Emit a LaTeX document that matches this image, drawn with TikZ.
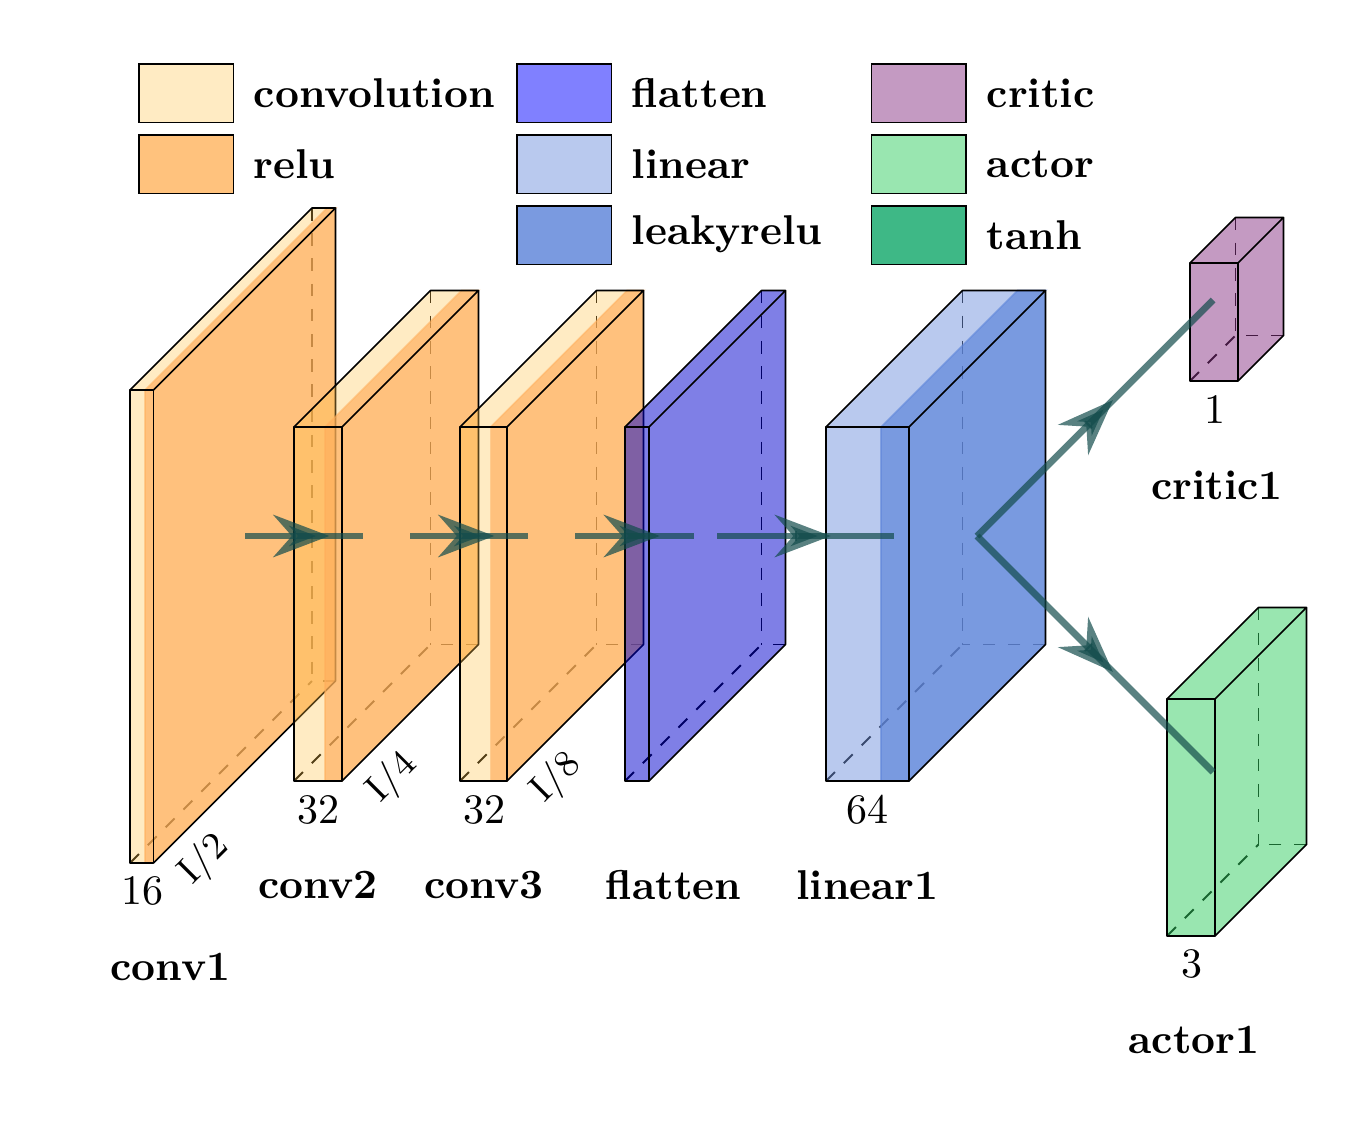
\documentclass[tikz,border=0pt]{standalone}
\usetikzlibrary{arrows.meta}
\definecolor{convcol}{RGB}{255,194,73}
\definecolor{relucol}{RGB}{255,174,91}
\definecolor{flatcol}{RGB}{0,0,205}
\definecolor{lincol}{RGB}{115,147,221}
\definecolor{leakcol}{RGB}{95,134,218}
\definecolor{criticcol}{RGB}{137,53,133}
\definecolor{actorcol}{RGB}{51,205,97}
\definecolor{edgecol}{RGB}{18,75,75}
\definecolor{lgconv}{RGB}{255,235,195}
\definecolor{lgrelu}{RGB}{255,194,125}
\definecolor{lgflat}{RGB}{128,128,255}
\definecolor{lglin}{RGB}{185,201,238}
\definecolor{lgleak}{RGB}{122,154,224}
\definecolor{lgcritic}{RGB}{196,154,194}
\definecolor{lgactor}{RGB}{153,230,176}
\definecolor{lgtanh}{RGB}{62,184,134}
\newcommand{\tikzunitpx}{*0.2381pt}
\tikzset{
  hid/.style={draw=black,dashed,line width=.47pt},
  solidedge/.style={draw=black},
  basecoat/.style={fill=convcol,fill opacity=.33},
  relucoat/.style={fill=relucol,fill opacity=.67,draw=relucol,draw opacity=.5},
  lincoat/.style={fill=lincol,fill opacity=.5},
  leakcoat/.style={fill=leakcol,fill opacity=.7,draw=leakcol,draw opacity=.6},
  flatcoat/.style={fill=flatcol,fill opacity=.5},
  criticcoat/.style={fill=criticcol,fill opacity=.5},
  actorcoat/.style={fill=actorcol,fill opacity=.5},
  legendbox/.style={draw=black,line width=.45pt,minimum width=94.5\tikzunitpx,minimum height=58.5\tikzunitpx,inner sep=0pt},
  legendtext/.style={anchor=west,inner sep=0pt,font=\fontsize{9.92}{12}\selectfont\bfseries},
  layername/.style={font=\fontsize{9.92}{12}\selectfont\bfseries,inner sep=0pt},
  dimlabel/.style={inner sep=0pt},
  scalelabel/.style={inner sep=0pt,rotate=45,font=\fontsize{9}{11}\selectfont},
  connection/.style={line width=1.6pt,draw=edgecol,opacity=0.7,every node/.style={sloped,allow upside down}},
}
\newcommand{\midarrow}{\tikz \draw[-Stealth,line width=0.8mm,draw=edgecol] (-0.3cm,0) -- ++(0.3cm,0);}
% #1 left x, #2 right x, #3 top y, #4 bottom y, #5 depth
\newcommand{\hiddenedges}[5]{%
  \draw[hid] (#1+#5,#3-#5) -- (#1+#5,#4-#5);
  \draw[hid] (#2+#5,#4-#5) -- (#1+#5,#4-#5);
  \draw[hid] (#1,#4) -- (#1+#5,#4-#5);}
\newcommand{\coat}[6]{%
  \path[#1] (#2,#4) -- (#3,#4) -- (#3,#5) -- (#2,#5) -- cycle;
  \path[#1] (#2,#4) -- (#3,#4) -- (#3+#6,#4-#6) -- (#2+#6,#4-#6) -- cycle;
  \path[#1,draw=none] (#3,#4) -- (#3+#6,#4-#6) -- (#3+#6,#5-#6) -- (#3,#5) -- cycle;}
\newcommand{\boxedges}[5]{%
  \draw[solidedge,line join=round] (#1,#3) rectangle (#2,#4);
  \draw[solidedge,line join=round] (#1,#3) -- (#1+#5,#3-#5) -- (#2+#5,#3-#5) -- (#2,#3);
  \draw[solidedge,line join=round] (#2+#5,#3-#5) -- (#2+#5,#4-#5) -- (#2,#4);}
% two-layer block: #1 first coat, #2 second coat, #3 left, #4 split, #5 right, #6 top, #7 bottom, #8 depth
\newcommand{\twolayer}[8]{%
  \hiddenedges{#3}{#5}{#6}{#7}{#8}
  \coat{#1}{#3}{#5}{#6}{#7}{#8}
  \coat{#2}{#4}{#5}{#6}{#7}{#8}
  \boxedges{#3}{#5}{#6}{#7}{#8}}
\newcommand{\onelayer}[6]{%
  \hiddenedges{#2}{#3}{#4}{#5}{#6}
  \coat{#1}{#2}{#3}{#4}{#5}{#6}
  \boxedges{#2}{#3}{#4}{#5}{#6}}
\begin{document}
\begin{tikzpicture}[x=0.2381pt,y=-0.2381pt]
\useasboundingbox (0,0) rectangle (1369,1129);

% legend
\node[legendbox,fill=lgconv,anchor=north west] (lg1) at (138,63) {};
\node[legendbox,fill=lgrelu,anchor=north west] (lg2) at (138,134) {};
\node[legendbox,fill=lgflat,anchor=north west] (lg3) at (516,63) {};
\node[legendbox,fill=lglin,anchor=north west] (lg4) at (516,134) {};
\node[legendbox,fill=lgleak,anchor=north west] (lg5) at (516,205) {};
\node[legendbox,fill=lgcritic,anchor=north west] (lg6) at (870.5,63) {};
\node[legendbox,fill=lgactor,anchor=north west] (lg7) at (870.5,134) {};
\node[legendbox,fill=lgtanh,anchor=north west] (lg8) at (870.5,205) {};
\node[legendtext] (lt1) at (253,93) {convolution};
\node[legendtext] (lt2) at (253,164.5) {relu};
\node[legendtext] (lt3) at (631,93) {flatten};
\node[legendtext] (lt4) at (631,164.5) {linear};
\node[legendtext] (lt5) at (631,234) {leakyrelu};
\node[legendtext] (lt6) at (986,93) {critic};
\node[legendtext] (lt7) at (986,164) {actor};
\node[legendtext] (lt8) at (986,235.5) {tanh};

% blocks
\twolayer{basecoat}{relucoat}{130}{145}{153.5}{390}{863}{182}
\twolayer{basecoat}{relucoat}{294}{325}{342}{427}{781}{136.5}
\twolayer{basecoat}{relucoat}{460}{490.5}{507}{427}{781}{136.5}
\onelayer{flatcoat}{625}{649}{427}{781}{136.5}
\twolayer{lincoat}{leakcoat}{826}{881}{909}{427}{781}{136.5}
\onelayer{criticcoat}{1190}{1238}{263}{381}{45.5}
\onelayer{actorcoat}{1167}{1215}{699}{936}{91.5}

% labels
\node[dimlabel] (d1) at (142,891) {16};
\node[dimlabel] (d2) at (318,810) {32};
\node[dimlabel] (d3) at (484,810) {32};
\node[dimlabel] (d4) at (867.5,810) {64};
\node[dimlabel] (d5) at (1214.5,410) {1};
\node[dimlabel] (d6) at (1191.5,964) {3};
\node[scalelabel] (s1) at (205,860) {I/2};
\node[scalelabel] (s2) at (393,778) {I/4};
\node[scalelabel] (s3) at (557,778) {I/8};
\node[layername] (n1) at (170.5,967) {conv1};
\node[layername] (n2) at (318,885) {conv2};
\node[layername] (n3) at (484,885) {conv3};
\node[layername] (n4) at (673.5,885) {flatten};
\node[layername] (n5) at (867.5,885) {linear1};
\node[layername] (n6) at (1217,485.5) {critic1};
\node[layername] (n7) at (1194,1040) {actor1};

% connectors
\coordinate (a1) at (245,536); \coordinate (b1) at (363,536);
\coordinate (a2) at (410,536); \coordinate (b2) at (528,536);
\coordinate (a3) at (575,536); \coordinate (b3) at (694,536);
\coordinate (a4) at (717,536); \coordinate (b4) at (894,536);
\coordinate (a5) at (977,536); \coordinate (b5) at (1213,300);
\coordinate (b6) at (1213,772);
\draw[connection] (a1) -- node {\midarrow} (b1);
\draw[connection] (a2) -- node {\midarrow} (b2);
\draw[connection] (a3) -- node {\midarrow} (b3);
\draw[connection] (a4) -- node {\midarrow} (b4);
\draw[connection] (a5) -- node {\midarrow} (b5);
\draw[connection] (a5) -- node {\midarrow} (b6);
\end{tikzpicture}
\end{document}
